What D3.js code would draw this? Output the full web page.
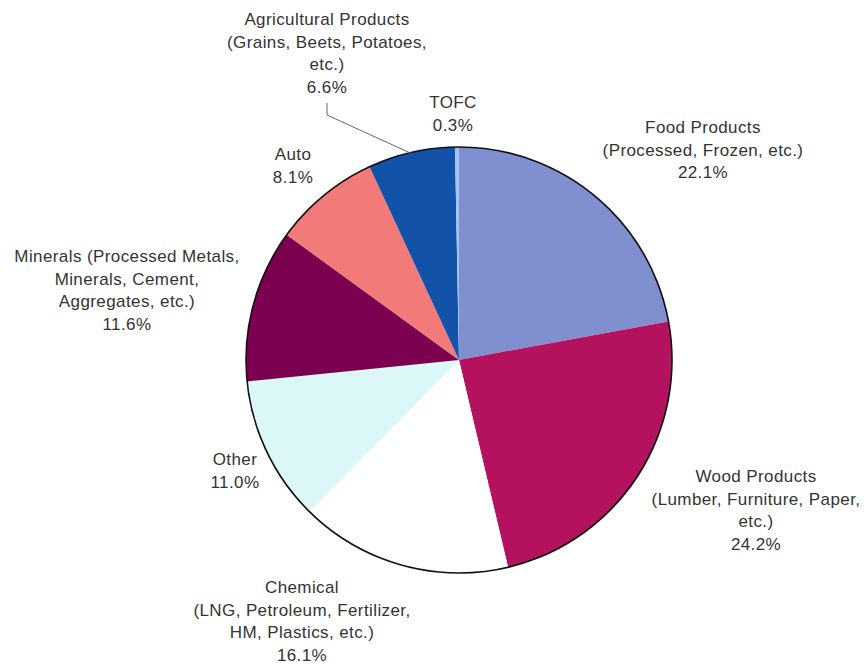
<!DOCTYPE html>
<html>
<head>
<meta charset="utf-8">
<script src="https://cdn.jsdelivr.net/npm/d3@7"></script>
<style>
  body { margin: 0; background: #fff; }
  svg text { font-family: "Liberation Sans", Arial, sans-serif; font-size: 17px; fill: #333; letter-spacing: 0.4px; }
</style>
</head>
<body>
<svg class="chart"></svg>
<script>
var categories = ['Food', 'Wood', 'Chemical', 'Other', 'Minerals', 'Auto', 'Agricultural', 'TOFC'];
var values = [22.1, 24.2, 16.1, 11.0, 11.6, 8.1, 6.6, 0.3];
var labelLines = [
  ['Food Products', '(Processed, Frozen, etc.)'],
  ['Wood Products', '(Lumber, Furniture, Paper,', 'etc.)'],
  ['Chemical', '(LNG, Petroleum, Fertilizer,', 'HM, Plastics, etc.)'],
  ['Other'],
  ['Minerals (Processed Metals,', 'Minerals, Cement,', 'Aggregates, etc.)'],
  ['Auto'],
  ['Agricultural Products', '(Grains, Beets, Potatoes,', 'etc.)'],
  ['TOFC']
];
var colors = ['#7f8fcf', '#b4125e', '#ffffff', '#dbf7f7', '#7c0050', '#f27a78', '#1252a8', '#9ec3f5'];

// where each label block sits (center x, first baseline)
var labelPos = [
  [703, 133], [756, 482], [302, 593], [235, 465],
  [127, 262], [293, 160], [327, 25], [453, 108]
];

var settings = {
  width: 867,
  height: 664,
  cx: 459,
  cy: 360,
  radius: 213,
  lineHeight: 22.7
};

function drawPie() {
  var svg = d3.select('.chart')
    .attr('width', settings.width)
    .attr('height', settings.height);

  var pie = d3.pie().sort(null).value(function(d) { return d; });
  var arc = d3.arc().innerRadius(0).outerRadius(settings.radius);

  var g = svg.append('g')
    .attr('transform', 'translate(' + settings.cx + ',' + settings.cy + ')');

  g.selectAll('path')
    .data(pie(values))
    .enter()
    .append('path')
    .attr('d', arc)
    .attr('fill', function(d, i) { return colors[i]; });

  // outer rim
  g.append('circle')
    .attr('r', settings.radius)
    .attr('fill', 'none')
    .attr('stroke', '#111')
    .attr('stroke-width', 1.6);

  // leader line for the agricultural label
  var agri = pie(values)[6];
  var mid = (agri.startAngle + agri.endAngle) / 2;
  var ex = settings.cx + Math.sin(mid) * settings.radius;
  var ey = settings.cy - Math.cos(mid) * settings.radius;
  svg.append('polyline')
    .attr('points', [[327, 103], [327, 115], [ex, ey + 1]].join(' '))
    .attr('fill', 'none')
    .attr('stroke', '#666')
    .attr('stroke-width', 1);

  // labels
  categories.forEach(function(c, i) {
    var lines = labelLines[i].concat([d3.format('.1f')(values[i]) + '%']);
    var t = svg.append('text')
      .attr('text-anchor', 'middle')
      .attr('x', labelPos[i][0])
      .attr('y', labelPos[i][1]);
    lines.forEach(function(l, j) {
      t.append('tspan')
        .attr('x', labelPos[i][0])
        .attr('dy', j === 0 ? 0 : settings.lineHeight)
        .text(l);
    });
  });
}

drawPie();
</script>
</body>
</html>
